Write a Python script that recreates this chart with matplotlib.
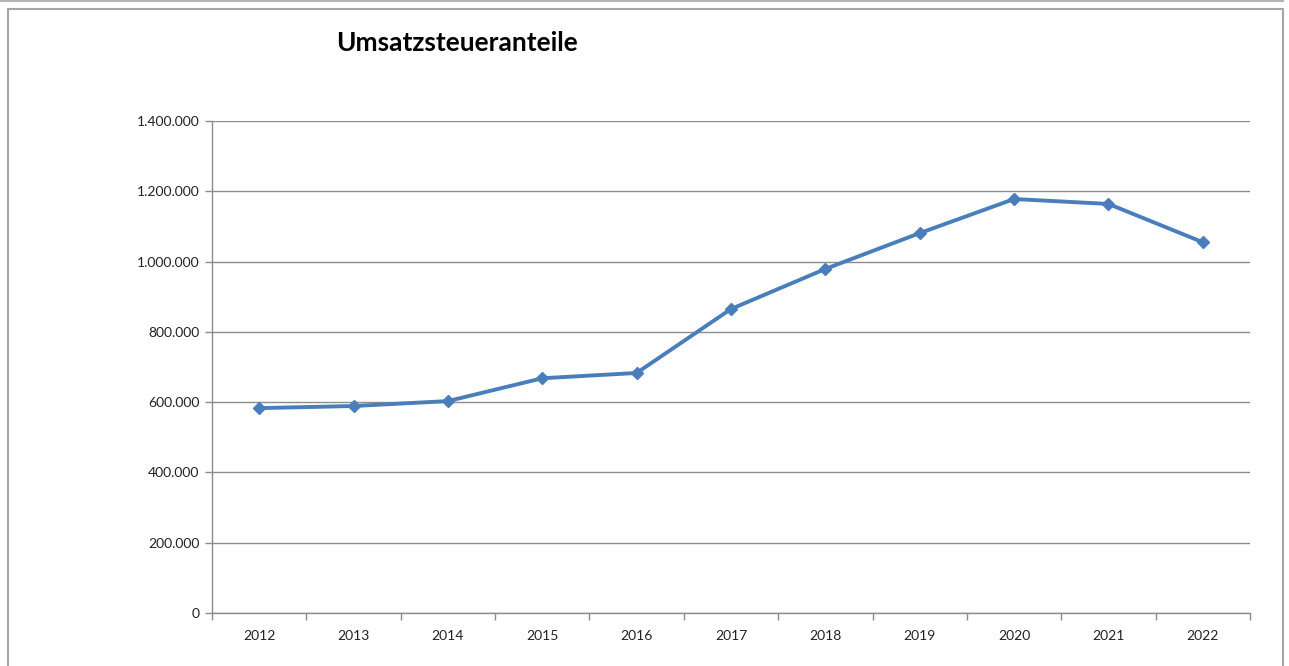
import matplotlib.pyplot as plt
from matplotlib.patches import Rectangle
from matplotlib.lines import Line2D
from matplotlib.ticker import FuncFormatter, FixedLocator, NullFormatter

years = ["2012", "2013", "2014", "2015", "2016", "2017", "2018", "2019", "2020", "2021", "2022"]
umsatzsteuer = [583000, 589000, 603000, 668000, 683000, 865000, 979000, 1081000, 1178000, 1164000, 1055000]
y_ticks = [0, 200000, 400000, 600000, 800000, 1000000, 1200000, 1400000]

plt.rcParams['font.family'] = ['Lato', 'DejaVu Sans']

W, H = 1289, 666
fig = plt.figure(figsize=(W / 100, H / 100), dpi=100)

# rahmen um das diagramm
fig.add_artist(Line2D([0, 1283 / W], [1 - 1 / H, 1 - 1 / H], color='#b4b4b4', lw=1.5, transform=fig.transFigure))
fig.add_artist(Rectangle((8 / W, -0.05), (1283 - 8) / W, 1.05 - 9 / H, fill=False,
                         edgecolor='#a6a6a6', lw=1.5, transform=fig.transFigure))

left, right, top, bottom = 212, 1250, 121, 613
ax = fig.add_axes([left / W, 1 - bottom / H, (right - left) / W, (bottom - top) / H])

x = range(len(years))
ax.plot(x, umsatzsteuer, color='#4a7ebb', lw=2.8, marker='D', markersize=6.5,
        markerfacecolor='#4a7ebb', markeredgecolor='#4a7ebb', zorder=3, solid_joinstyle='round')

ax.set_xlim(-0.5, len(years) - 0.5)
ax.set_ylim(0, 1400000)
ax.set_yticks(y_ticks)
ax.yaxis.set_major_formatter(FuncFormatter(lambda v, p: f"{int(v):,}".replace(",", ".")))
ax.grid(axis='y', color='#8c8c8c', lw=1)
ax.set_axisbelow(True)

# kategorien-ticks an den grenzen, beschriftung mittig
ax.xaxis.set_major_locator(FixedLocator([i - 0.5 for i in range(len(years) + 1)]))
ax.xaxis.set_major_formatter(NullFormatter())
ax.xaxis.set_minor_locator(FixedLocator(list(x)))
ax.set_xticklabels(years, minor=True)
ax.tick_params(axis='x', which='major', direction='out', length=5, color='#8c8c8c', width=1)
ax.tick_params(axis='x', which='minor', length=0, pad=12, labelsize=10, labelcolor='#222222')
ax.tick_params(axis='y', direction='out', length=5, color='#8c8c8c', width=1, pad=4,
               labelsize=10, labelcolor='#222222')

for s in ['top', 'right']:
    ax.spines[s].set_visible(False)
for s in ['left', 'bottom']:
    ax.spines[s].set_color('#8c8c8c')
    ax.spines[s].set_linewidth(1)

fig.text(457 / W, 1 - 43 / H, "Umsatzsteueranteile", ha='center', va='center',
         fontsize=19, fontweight='bold', color='black')

fig.savefig("out.png", dpi=100)
